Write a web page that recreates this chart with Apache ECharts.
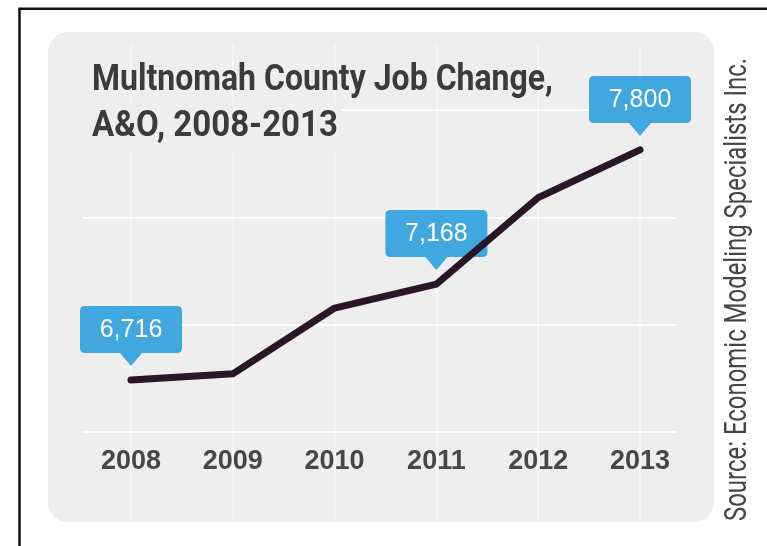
<!DOCTYPE html>
<html>
<head>
<meta charset="utf-8">
<script src="https://cdn.jsdelivr.net/npm/echarts@6/dist/echarts.min.js"></script>
<style>
  html, body { margin: 0; padding: 0; background: #ffffff; }
  #chart { width: 767px; height: 546px; }
</style>
</head>
<body>
<div id="chart"></div>
<script>
// Annual job totals, A&O sector, Multnomah County
const years = ['2008', '2009', '2010', '2011', '2012', '2013'];
const jobs = [6716, 6745, 7055, 7168, 7575, 7800];
// Years that get a value callout
const calloutYears = ['2008', '2011', '2013'];
// Horizontal guide rows (drawn on their own index axis)
const guideRows = [0, 1, 2, 3];

const titleLines = ['Multnomah County Job Change,', 'A&O, 2008-2013'];
const sourceText = 'Source: Economic Modeling Specialists Inc.';

const fmt = v => v.toLocaleString('en-US');

// Condensed look: measure the text and squeeze it horizontally
const measureCtx = document.createElement('canvas').getContext('2d');
function textWidth(text, font) {
  measureCtx.font = font;
  return measureCtx.measureText(text).width;
}
const titleFont = 'bold 36px Roboto';
const titleScale1 = 461 / textWidth(titleLines[0], titleFont);
const titleScale2 = 246 / textWidth(titleLines[1], titleFont);
const sourceFont = '32px Roboto';
const sourceScale = 463 / textWidth(sourceText, sourceFont);
const titlePad = 12;

const calloutData = calloutYears.map(y => {
  const i = years.indexOf(y);
  return { coord: [years[i], jobs[i]], value: jobs[i] };
});

// Rounded box with a downward pointer
const calloutPath = 'path://M5,0 L97,0 Q102,0 102,5 L102,42 Q102,47 97,47 L62,47 L51,60 L40,47 L5,47 Q0,47 0,42 L0,5 Q0,0 5,0 Z';

const chart = echarts.init(document.getElementById('chart'), null, { renderer: 'canvas' });

chart.setOption({
  backgroundColor: '#ffffff',
  animation: false,
  graphic: [
    {
      type: 'rect', z: -10, silent: true,
      shape: { x: 48, y: 32, width: 666, height: 490, r: 20 },
      style: { fill: '#eeeeee' }
    },
    {
      type: 'rect', z: 100, silent: true,
      shape: { x: 19.5, y: 8.7, width: 780, height: 580 },
      style: { fill: 'none', stroke: '#111111', lineWidth: 2.5 }
    },
    {
      type: 'text', z: 60, silent: true,
      x: 92, y: 81, scaleX: titleScale1,
      style: {
        text: titleLines[0], font: titleFont, fill: '#3b3b3b',
        align: 'left', verticalAlign: 'middle'
      }
    },
    {
      // second title line sits on a panel-coloured box so the top guide row stops at its end
      type: 'text', z: 60, silent: true,
      x: 92 - titlePad * titleScale2, y: 126.5, scaleX: titleScale2,
      style: {
        text: titleLines[1], font: titleFont, fill: '#3b3b3b',
        align: 'left', verticalAlign: 'middle',
        backgroundColor: '#eeeeee', padding: [6, 4, 6, titlePad]
      }
    },
    {
      type: 'text', z: 100, silent: true,
      x: 738, y: 289.5, rotation: Math.PI / 2, scaleX: sourceScale,
      style: {
        text: sourceText, font: sourceFont, fill: '#454545',
        align: 'center', verticalAlign: 'middle'
      }
    }
  ],
  grid: [
    { left: 131, right: 127, top: 110, bottom: 114 },
    { left: 82, right: 91, top: 110, bottom: 114 },
    { left: 131, right: 127, top: 45, bottom: 26 }
  ],
  xAxis: [
    {
      gridIndex: 0, type: 'category', data: years, boundaryGap: false,
      axisLine: { show: false }, axisTick: { show: false }, splitLine: { show: false },
      axisLabel: {
        margin: 16, fontSize: 27, lineHeight: 28, fontWeight: 'bold',
        fontFamily: '"Liberation Sans", Arial, sans-serif', color: '#474747'
      }
    },
    { gridIndex: 1, type: 'value', show: false },
    {
      gridIndex: 2, type: 'category', data: years, boundaryGap: false,
      axisLine: { show: false }, axisTick: { show: false }, axisLabel: { show: false },
      splitLine: { show: true, lineStyle: { color: 'rgba(255,255,255,0.65)', width: 1.5 } }
    }
  ],
  yAxis: [
    { gridIndex: 0, type: 'value', min: 6471, max: 7988, show: false },
    {
      gridIndex: 1, type: 'value', min: guideRows[0], max: guideRows[guideRows.length - 1], interval: 1,
      axisLine: { show: false }, axisTick: { show: false }, axisLabel: { show: false },
      splitLine: { show: true, lineStyle: { color: '#ffffff', width: 2 } }
    },
    { gridIndex: 2, type: 'value', show: false }
  ],
  series: [
    {
      type: 'line',
      xAxisIndex: 0, yAxisIndex: 0,
      data: jobs,
      showSymbol: false,
      silent: true,
      lineStyle: { color: '#2b1627', width: 7, join: 'round', cap: 'round' },
      z: 5,
      markPoint: {
        silent: true,
        symbol: calloutPath,
        symbolSize: [102, 60],
        symbolOffset: [0, -44],
        itemStyle: { color: '#40a8df' },
        label: {
          show: true,
          position: 'inside',
          offset: [0, -6],
          formatter: p => fmt(p.value),
          color: '#ffffff',
          fontSize: 25,
          fontFamily: '"Liberation Sans", Arial, sans-serif'
        },
        data: calloutData
      }
    }
  ]
});
</script>
</body>
</html>
